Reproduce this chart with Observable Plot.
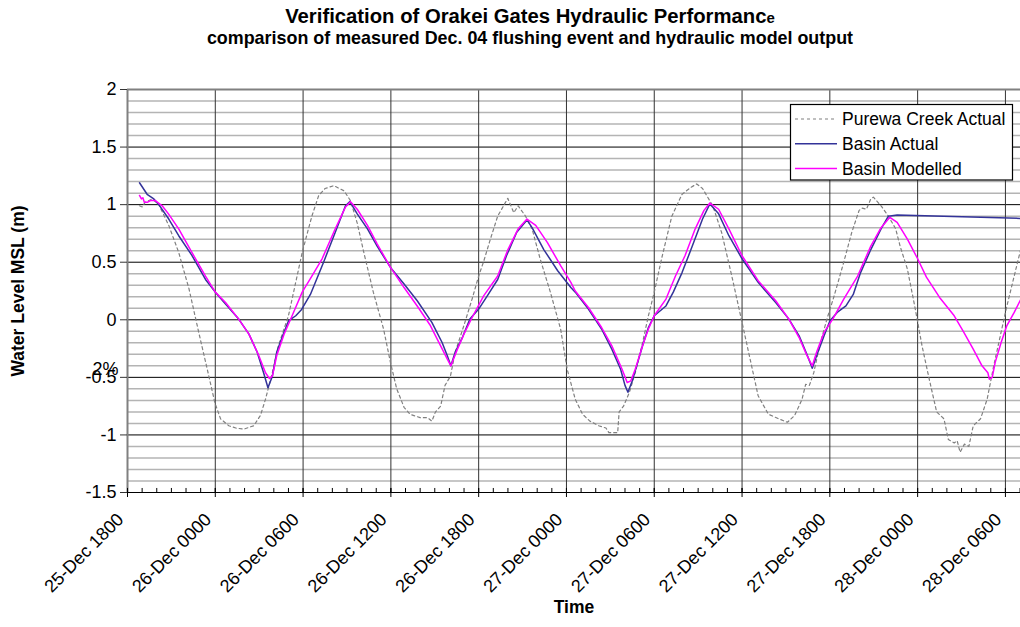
<!DOCTYPE html>
<html><head><meta charset="utf-8">
<script src="https://cdn.jsdelivr.net/npm/d3@7"></script>
<script src="https://cdn.jsdelivr.net/npm/@observablehq/plot@0.6"></script>
<style>
body{margin:0;background:#fff;font-family:"Liberation Sans",Arial,sans-serif;color:#000;}
#wrap{width:1020px;height:627px;overflow:hidden;position:relative;background:#fff;}
#head{position:relative;height:60px;}
#title{position:absolute;left:0;width:1060px;text-align:center;top:6px;font-weight:bold;font-size:20.3px;line-height:20px;white-space:nowrap;}
#sub{position:absolute;left:0;width:1060px;text-align:center;top:29px;font-weight:bold;font-size:17.9px;line-height:18px;white-space:nowrap;}
#chart svg{display:block;}
</style></head><body>
<div id="wrap">
<div id="head">
<div id="title">Verification of Orakei Gates Hydraulic Performanc<span style="font-size:15px">e</span></div>
<div id="sub">comparison of measured Dec. 04 flushing event and hydraulic model output</div>
</div>
<div id="chart"></div>
</div>
<script>
// ---- data (hours after 25-Dec 2004 18:00, water level m MSL) ----
const purewaHours = [0.82,1.0,1.2,1.69,2.14,2.82,3.5,4.2,4.87,5.56,5.97,6.36,6.92,7.4,7.95,8.63,9.09,9.43,9.9,10.3,11.0,11.94,12.6,13.07,13.5,14.1,14.8,15.24,15.7,16.15,16.8,17.5,17.97,18.4,18.9,19.3,20.0,20.5,20.8,21.05,21.4,21.7,22.07,22.4,22.99,23.55,24.0,24.35,24.8,25.3,25.7,25.99,26.4,26.7,27.2,27.65,28.2,28.9,29.6,30.05,30.6,31.1,31.6,32.2,32.7,32.9,33.5,33.6,33.9,34.3,34.7,35.2,35.6,36.0,36.5,37.2,37.9,38.5,38.9,39.3,40.0,40.6,41.3,42.0,42.6,43.1,43.8,44.5,45.1,45.6,46.1,46.35,46.6,46.9,47.3,47.8,48.3,48.95,49.5,50.0,50.2,50.5,50.8,50.98,51.5,52.0,52.5,52.8,53.3,53.8,54.3,54.8,55.3,55.8,55.9,56.1,56.5,56.7,56.9,57.2,57.5,57.8,58.3,58.75,59.2,59.7,60.1,60.6,61.1];
const purewaLevel = [0.99,0.98,1.02,1.05,1.0,0.82,0.585,0.27,-0.11,-0.49,-0.72,-0.86,-0.92,-0.94,-0.95,-0.92,-0.83,-0.69,-0.46,-0.23,0.035,0.585,0.9,1.08,1.14,1.165,1.12,1.035,0.84,0.585,0.24,-0.08,-0.37,-0.6,-0.76,-0.82,-0.85,-0.85,-0.88,-0.8,-0.75,-0.57,-0.49,-0.28,-0.05,0.18,0.38,0.51,0.7,0.9,0.99,1.055,0.93,0.99,0.9,0.79,0.53,0.24,-0.08,-0.43,-0.69,-0.82,-0.88,-0.92,-0.94,-0.98,-0.98,-0.8,-0.75,-0.63,-0.46,-0.2,0.035,0.24,0.53,0.9,1.09,1.15,1.18,1.14,0.99,0.76,0.38,-0.023,-0.37,-0.66,-0.82,-0.86,-0.89,-0.83,-0.69,-0.56,-0.57,-0.46,-0.226,0.006,0.21,0.5,0.76,0.95,0.97,0.96,1.05,1.065,0.99,0.9,0.79,0.64,0.44,0.12,-0.226,-0.52,-0.8,-0.86,-0.92,-1.04,-1.07,-1.05,-1.15,-1.08,-1.1,-0.92,-0.86,-0.69,-0.4,-0.11,0.12,0.38,0.64];

const actualHours = [0.82,1.34,1.8,2.14,2.82,3.5,4.4,5.33,6.0,6.7,7.6,8.3,8.86,9.3,9.6,9.9,10.2,10.6,11.0,11.5,11.9,12.5,13.4,14.2,14.9,15.2,15.7,16.4,17.06,17.97,18.9,19.8,20.8,21.5,21.85,22.1,22.4,22.9,23.4,24.0,24.6,25.3,25.9,26.6,27.3,27.65,28.45,29.4,30.3,30.6,31.5,32.4,33.1,33.7,34.0,34.2,34.5,34.8,35.2,35.6,36.0,36.8,37.3,37.9,38.6,39.3,39.8,40.4,41.1,42.0,43.1,44.3,45.2,45.9,46.4,46.8,47.1,47.6,48.0,48.5,49.1,49.6,50.1,50.8,51.5,52.0,52.6,61.1];
const actualLevel = [1.19,1.09,1.05,1.0,0.875,0.73,0.56,0.35,0.24,0.136,0.006,-0.125,-0.28,-0.46,-0.59,-0.49,-0.28,-0.14,-0.01,0.035,0.09,0.22,0.5,0.76,0.99,1.026,0.92,0.79,0.64,0.455,0.31,0.165,-0.023,-0.197,-0.31,-0.4,-0.28,-0.15,0.006,0.093,0.21,0.35,0.556,0.76,0.867,0.8,0.61,0.426,0.28,0.24,0.093,-0.08,-0.255,-0.43,-0.57,-0.63,-0.53,-0.4,-0.226,-0.067,0.035,0.12,0.24,0.41,0.64,0.875,1.006,0.92,0.73,0.53,0.325,0.15,0.006,-0.14,-0.29,-0.42,-0.31,-0.14,-0.01,0.064,0.12,0.22,0.41,0.61,0.79,0.9,0.91,0.88];

const modelHours = [0.82,0.95,1.05,1.15,1.35,1.57,1.9,2.37,2.8,3.5,4.4,5.33,6.0,6.7,7.6,8.3,8.97,9.43,9.7,9.9,10.2,10.7,11.25,11.94,12.6,13.3,14.2,14.9,15.24,15.7,16.4,17.06,17.97,18.9,19.8,20.7,21.4,21.85,22.1,22.5,22.99,23.55,24.35,25.3,26.0,26.7,27.3,27.9,28.7,29.6,30.3,30.6,31.5,32.4,33.1,33.8,34.15,34.4,34.7,35.2,35.6,36.0,36.8,37.45,38.1,38.8,39.4,39.8,40.4,41.1,42.0,43.1,44.3,45.2,45.9,46.4,46.8,47.1,47.6,48.2,48.95,49.9,50.8,51.5,52.1,52.6,53.3,54.0,54.6,55.5,56.5,57.1,57.8,58.4,58.8,58.9,59.1,59.3,59.7,60.1,60.6,61.1];
const modelLevel = [1.08,1.05,1.06,1.02,1.02,1.035,1.035,0.99,0.92,0.79,0.585,0.38,0.24,0.15,0.006,-0.125,-0.31,-0.46,-0.51,-0.49,-0.31,-0.125,0.035,0.24,0.38,0.53,0.79,0.98,1.026,0.96,0.82,0.66,0.455,0.28,0.12,-0.05,-0.226,-0.34,-0.4,-0.27,-0.125,0.02,0.21,0.38,0.61,0.79,0.875,0.82,0.67,0.47,0.325,0.25,0.107,-0.067,-0.226,-0.43,-0.545,-0.53,-0.43,-0.226,-0.08,0.035,0.18,0.38,0.556,0.79,0.95,1.014,0.96,0.79,0.556,0.34,0.165,0.006,-0.154,-0.3,-0.4,-0.28,-0.11,0.006,0.18,0.38,0.64,0.8,0.89,0.846,0.7,0.53,0.37,0.194,0.035,-0.096,-0.255,-0.4,-0.46,-0.516,-0.5,-0.37,-0.2,-0.05,0.064,0.19];

const seriesNames = ["Purewa Creek Actual", "Basin Actual", "Basin Modelled"];
const seriesColors = ["#808080", "#333399", "#ff00ff"];

const xTickHours = [0,6,12,18,24,30,36,42,48,54,60];
const xTickLabels = ["25-Dec 1800","26-Dec 0000","26-Dec 0600","26-Dec 1200","26-Dec 1800","27-Dec 0000","27-Dec 0600","27-Dec 1200","27-Dec 1800","28-Dec 0000","28-Dec 0600"];
const yTicks = [-1.5,-1,-0.5,0,0.5,1,1.5,2];

// ---- build ----
const t0 = Date.UTC(2004, 11, 25, 18);
const toDate = h => new Date(t0 + h * 3600000);
const mk = (hours, vals) => hours.map((h, i) => ({t: toDate(h), v: vals[i]}));
const purewa = mk(purewaHours, purewaLevel);
const actual = mk(actualHours, actualLevel);
const model = mk(modelHours, modelLevel);

const xTicks = xTickHours.map((h, i) => ({t: toDate(h), label: xTickLabels[i]}));
const hourTicks = d3.range(0, 62).map(toDate);
const minorY = d3.range(-14, 20).map(i => i / 10).filter(v => Math.abs(v * 2 - Math.round(v * 2)) > 1e-6);
const font = "Liberation Sans, Arial, sans-serif";

const chart = Plot.plot({
  width: 1020, height: 567,
  marginTop: 29, marginBottom: 135, marginLeft: 127, marginRight: 0,
  x: {type: "utc", domain: [toDate(0), toDate(61.03)], axis: null},
  y: {domain: [-1.5, 2], axis: null},
  style: {fontFamily: font, fontSize: "18px", color: "#000", background: "#fff", overflow: "hidden"},
  marks: [
    Plot.ruleY(minorY, {stroke: "#b4b4b4", strokeWidth: 1.5}),
    Plot.ruleY(yTicks, {stroke: "#000", strokeWidth: 1}),
    Plot.ruleX(xTicks, {x: "t", stroke: "#333", strokeWidth: 1}),
    Plot.ruleY([2], {stroke: "#808080", strokeWidth: 2}),
    Plot.ruleX([toDate(0)], {stroke: "#808080", strokeWidth: 2}),
    Plot.ruleY([-1.5], {stroke: "#000", strokeWidth: 1.2}),
    Plot.ruleX(hourTicks, {x: d => d, y1: -1.5, y2: -1.465, stroke: "#000", strokeWidth: 1}),
    Plot.ruleX(xTicks, {x: "t", y1: -1.5435, y2: -1.465, stroke: "#000", strokeWidth: 1}),
    Plot.axisY(yTicks, {tickSize: 7, tickPadding: 4, fontSize: 18, tickFormat: d => String(d), label: null, stroke: "#333"}),
    Plot.text(xTicks, {x: "t", text: "label", frameAnchor: "bottom", dx: -7, dy: 24, rotate: -45, textAnchor: "end", lineAnchor: "middle", fontSize: 18}),
    Plot.line(purewa, {x: "t", y: "v", stroke: seriesColors[0], strokeWidth: 1.2, strokeDasharray: "3,3", clip: true}),
    Plot.line(actual, {x: "t", y: "v", stroke: seriesColors[1], strokeWidth: 1.5, clip: true}),
    Plot.line(model, {x: "t", y: "v", stroke: seriesColors[2], strokeWidth: 1.5, clip: true}),
    Plot.text(["Water Level MSL (m)"], {text: d => d, frameAnchor: "left", dx: -109, rotate: -90, textAnchor: "middle", fontWeight: "bold", fontSize: 17.5}),
    Plot.text(["Time"], {text: d => d, frameAnchor: "bottom", dy: 120, textAnchor: "middle", fontWeight: "bold", fontSize: 17.5}),
    Plot.text([{t: toDate(0), v: -0.5, s: "2%"}], {x: "t", y: "v", text: "s", dx: -35, dy: -8, textAnchor: "start", fontSize: 18})
  ]
});

// legend box
const svg = d3.select(chart);
const g = svg.append("g").attr("font-family", font).attr("font-size", 17.5).attr("text-anchor", "start");
g.append("rect").attr("x", 790.5).attr("y", 44.5).attr("width", 222).attr("height", 75.5)
  .attr("fill", "#fff").attr("stroke", "#000").attr("stroke-width", 1.2);
seriesNames.forEach((name, i) => {
  const cy = 59 + i * 24.8;
  g.append("line").attr("x1", 795).attr("x2", 837).attr("y1", cy).attr("y2", cy)
    .attr("stroke", seriesColors[i]).attr("stroke-width", i === 0 ? 1.2 : 1.5)
    .attr("stroke-dasharray", i === 0 ? "3,3" : null);
  g.append("text").attr("x", 842).attr("y", cy + 6.3).attr("fill", "#000")
    .attr("text-anchor", "start").text(name);
});

document.getElementById("chart").appendChild(chart);
</script>
</body></html>
